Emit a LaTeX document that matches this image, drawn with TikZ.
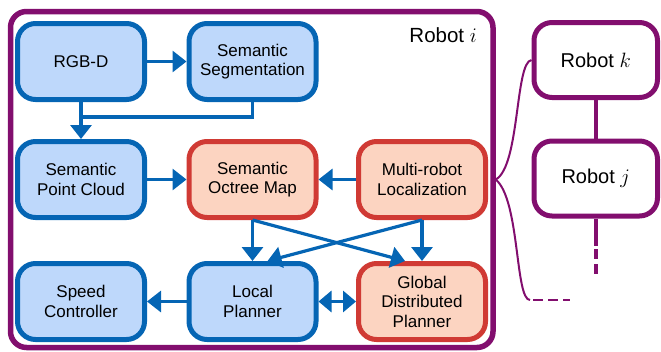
\documentclass[tikz,border=0pt]{standalone}
\usepackage{fontspec}
\setmainfont{Liberation Sans}
\usetikzlibrary{arrows.meta}
\definecolor{bblue}{RGB}{5,101,180}
\definecolor{bfill}{RGB}{190,216,251}
\definecolor{rred}{RGB}{208,58,52}
\definecolor{rfill}{RGB}{252,212,193}
\definecolor{ppl}{RGB}{130,14,110}
\tikzset{
 box/.style={draw, line width=5pt, rounded corners=18pt, minimum width=127pt, minimum height=76pt, align=center, inner sep=0pt, text=black, font=\fontsize{17}{19.5}\selectfont},
 bluebox/.style={box, draw=bblue, fill=bfill},
 redbox/.style={box, draw=rred, fill=rfill},
 robotbox/.style={draw=ppl, line width=5pt, rounded corners=18pt, minimum width=123.5pt, minimum height=75pt, fill=white, inner sep=0pt, font=\fontsize{20}{24}\selectfont},
 conn/.style={draw=bblue, line width=3.2pt, -{Triangle[length=14pt,width=21pt]}},
 dconn/.style={draw=bblue, line width=3.2pt, {Triangle[length=13pt,width=21pt]}-{Triangle[length=13pt,width=21pt]}},
 plain/.style={draw=bblue, line width=3.2pt},
 link/.style={draw=ppl, line width=2pt},
 rlink/.style={draw=ppl, line width=4pt},
}
\begin{document}
\begin{tikzpicture}[x=1pt,y=-1pt]
\useasboundingbox (0,0) rectangle (661,351);
% Robot i frame
\node[draw=ppl, line width=5.5pt, rounded corners=16pt, minimum width=482.5pt, minimum height=336pt, inner sep=0pt] (robi) at (251.75,179.5) {};
\node[anchor=base east, font=\fontsize{20.5}{24}\selectfont, inner sep=0pt] (robilabel) at (477,42) {Robot $i$};
% boxes
\node[bluebox] (rgbd) at (81,61.5) {RGB-D};
\node[bluebox] (seg) at (252.5,61.5) {Semantic\\Segmentation};
\node[bluebox] (pc) at (81,179.5) {Semantic\\Point Cloud};
\node[redbox] (oct) at (252.5,179.5) {Semantic\\Octree Map};
\node[redbox] (loc) at (422,179.5) {Multi-robot\\Localization};
\node[bluebox] (sc) at (81,301.5) {Speed\\Controller};
\node[bluebox] (lp) at (252.5,301.5) {Local\\Planner};
\node[redbox] (gdp) at (422,301.5) {Global\\Distributed\\Planner};
% other robots
\node[robotbox] (rk) at (595.75,60) {Robot $k$};
\node[robotbox] (rj) at (595.75,178.5) {Robot $j$};
% blue connectors
\coordinate (jn) at (81,117);
\draw[conn] (rgbd.east) -- (seg.west);
\draw[plain] (seg.south) |- (jn);
\draw[conn] (rgbd.south) -- (pc.north);
\draw[conn] (pc.east) -- (oct.west);
\draw[conn] (loc.west) -- (oct.east);
\draw[conn] (oct.south) -- (lp.north);
\draw[conn] (loc.south) -- (gdp.north);
\draw[conn] (oct.south) -- ([xshift=-17pt]gdp.north);
\draw[conn] (loc.south) -- ([xshift=15pt]lp.north);
\draw[conn] (lp.west) -- (sc.east);
\draw[dconn] (lp.east) -- (gdp.west);
% purple links
\coordinate (bend) at (530,300);
\coordinate (dend) at (570,300);
\coordinate (jm) at (595.75,246);
\coordinate (jend) at (595.75,278);
\draw[link] (robi.east) .. controls (520,166) and (515,62) .. (rk.west);
\draw[link] (robi.east) .. controls (520,200) and (515,300) .. (bend);
\draw[link, dash pattern=on 10pt off 5pt] ([xshift=3pt]bend) -- (dend);
\draw[rlink] (rk.south) -- (rj.north);
\draw[rlink] (rj.south) -- (jm);
\draw[rlink, dash pattern=on 10pt off 5pt] ([yshift=-3pt]jm) -- (jend);
\end{tikzpicture}
\end{document}
